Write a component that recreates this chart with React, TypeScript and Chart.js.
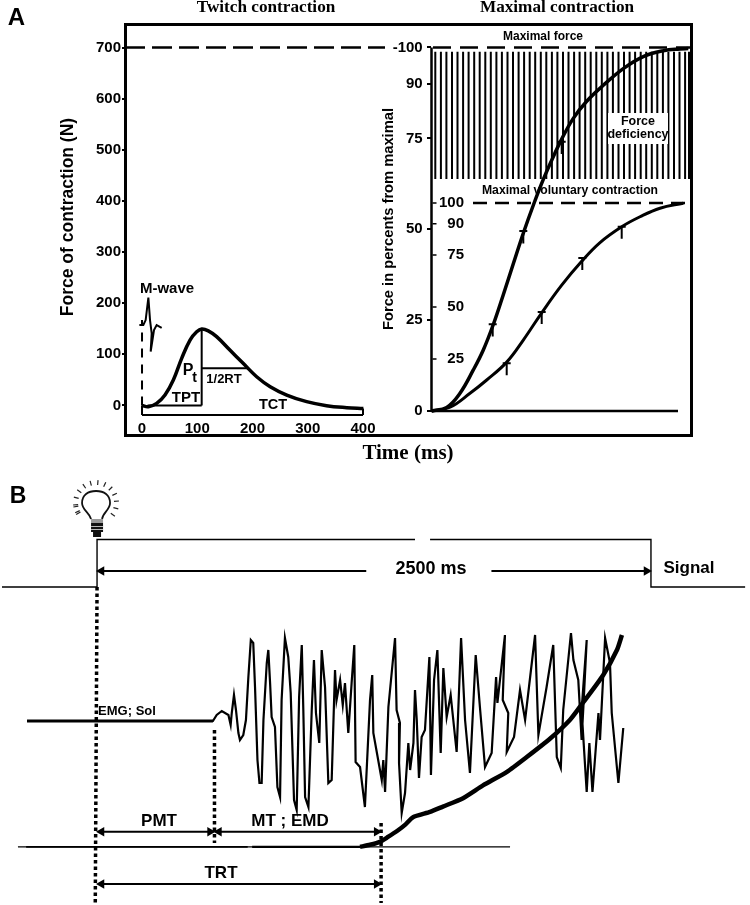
import React, { useEffect, useRef } from "react";
import { Chart, registerables } from "chart.js";

Chart.register(...registerables);

const SANS = "'Liberation Sans', Arial, sans-serif";
const SERIF = "'Liberation Serif', 'Times New Roman', serif";
const bold = (size: number, family = SANS) => `bold ${size}px ${family}`;

/* ---------- Panel A, twitch contraction ---------- */
const twitchTimeMs = [0, 11.5, 26.5, 41.6, 56.7, 71.8, 86.9, 99, 108, 120, 135, 159, 183, 207.5, 232, 262, 298, 334, 370.5, 400.6];
const twitchForceN = [0, -2.3, 4.2, 20.5, 49.9, 92.2, 128, 144, 149.6, 146, 134.6, 108.5, 82.5, 56.3, 36.8, 20.5, 7.5, -0.3, -4.2, -6];
const mWaveTimeMs = [-4.8, 2.4, 6.6, 11.5, 14.5, 17.5, 15.7, 21.7, 26.5, 35.6];
const mWaveForceN = [157.4, 157.4, 167, 210.9, 167, 141, 105.3, 147.6, 157.4, 152];
const forceTicks = [0, 100, 200, 300, 400, 500, 600, 700];
const timeTicks = [0, 100, 200, 300, 400];
const peakTimeMs = 108;
const peakForceN = 149.6;
const halfRelaxForceN = 72.7;
const halfRelaxTimeMs = 192;
const tctBracketN = -18.6;
const tctEndMs = 400;
const mWaveTopN = 167;

/* ---------- Panel A, maximal contraction ---------- */
const maxTime = [0.7, 15.7, 29, 42.3, 52.3, 62.3, 72.3, 82.3, 92.3, 102.3, 112.3, 120.7, 130.7, 142.3, 155.7, 172.3, 192.3, 212.3, 232.3, 249, 257.3];
const maxPercent = [0, 1, 4.9, 11.3, 16.8, 23.8, 32, 40.5, 48.9, 56.6, 63.7, 69, 74.8, 80.5, 85.2, 89.6, 94.2, 97.5, 99.1, 99.6, 99.7];
const mvcTime = [0.7, 19, 39, 55.7, 75.7, 92.3, 110.7, 130.7, 150.7, 169, 190.7, 209, 229, 252.3];
const mvcPercent = [0, 1.8, 8.5, 14.9, 23.5, 34.1, 47.2, 60.5, 72, 81, 88.6, 93.4, 97.5, 99.9];
const maxMarkTime = [61.7, 92.3, 130.7];
const maxMarkPercent = [23.9, 49.5, 74.1];
const mvcMarkTime = [75.7, 110.7, 151.3, 190.7];
const mvcMarkPercent = [23, 47.6, 73.6, 88.6];
const percentTicks = [0, 25, 50, 75, 90, 100];
const mvcTicks = [25, 50, 75, 90, 100];
const hatchTime = [4.3, 9.9, 15.4, 21, 26.5, 32.1, 37.6, 43.2, 48.7, 54.3, 59.8, 65.4, 70.9, 76.5, 82, 87.6, 93.1, 98.7, 104.2, 109.8, 115.3, 120.9, 126.4, 132, 137.5, 143.1, 148.6, 154.2, 159.7, 165.3, 170.8, 176.4, 181.9, 187.5, 193, 198.6, 204.1, 209.7, 215.2, 220.8, 226.3, 231.9, 237.4, 243, 248.5, 254.1, 258];
const hatchTopPercent = 98.8;
const hatchBottomPercent = 63.8;

/* ---------- Panel B ---------- */
const emgTimeMs = [-316, 523, 540, 563, 593, 603, 608, 618, 627, 638, 645, 660, 672, 683, 694, 705, 713, 724, 733, 743, 751, 766, 773, 781, 788, 803, 814, 826, 833, 848, 863, 874, 889, 901, 912, 924, 931, 939, 954, 969, 979, 988, 1003, 1014, 1029, 1044, 1059, 1074, 1081, 1097, 1109, 1119, 1134, 1149, 1161, 1167, 1187, 1209, 1232, 1242, 1247, 1285, 1292, 1300, 1315, 1345, 1352, 1367, 1363, 1375, 1390, 1405, 1413, 1428, 1435, 1443, 1453, 1465, 1480, 1500, 1507, 1521, 1536, 1551, 1563, 1578, 1596, 1623, 1643, 1661, 1683, 1709, 1728, 1751, 1781, 1801, 1807, 1841, 1831, 1856, 1849, 1882, 1909, 1932, 1977, 1992, 2029, 2059, 2075, 2093, 2104, 2139, 2150, 2172, 2187, 2195, 2210, 2187, 2210, 2222, 2236, 2263, 2270, 2293, 2315, 2323, 2353, 2375];
const emgAmplitude = [0, 0, 6, 10, 6, -4, 8, 26, 11, -12, -19, -14, 1, 44, 81, 78, 34, -39, -62, -62, 1, 58, 71, 38, 4, -6, -66, -76, 21, 83, 64, 28, -79, -89, 24, 76, 11, -76, -86, 11, 61, 8, -22, 71, 34, -62, -59, 51, 21, 41, 16, 38, -12, 38, 76, -41, -46, -86, 21, 46, -12, -59, -39, -71, 14, 83, 11, -2, -42, -92, -72, -22, -49, -22, 31, 1, -57, -16, -9, 64, -54, 41, 71, -32, 53, 4, 26, -31, 83, 1, -52, 66, 14, -46, -32, 44, 18, 86, 21, 8, -31, -16, 31, 1, 86, -14, 34, 76, -36, -47, 11, 88, 61, 41, -19, 14, 81, 11, -71, -22, -71, 8, -19, 83, 58, 8, -62, -7];
const forceTimeMs = [1187, 1232, 1277, 1313, 1354, 1390, 1426, 1503, 1561, 1652, 1742, 1850, 1941, 2044, 2135, 2193, 2284, 2347, 2369];
const forcePercent = [0, 1, 2.4, 4.7, 7.5, 10.4, 14, 16.5, 19, 23, 29, 35.4, 42.5, 51, 60, 68, 81, 93, 100];
const signalTimeMs = [-429, 0, 0, 1435, NaN, 1503, 2500, 2500, 2925];
const signalLevel = [0, 0, 1, 1, NaN, 1, 1, 0, 0];
const stimulusMs = 0;
const signalEndMs = 2500;
const premotorMs = 530;
const totalMs = 1282;

type Pt = { x: number; y: number };
const zip = (xs: number[], ys: number[]): Pt[] => xs.map((x, i) => ({ x, y: ys[i] }));
const segs = (list: number[][]): Pt[] => {
  const out: Pt[] = [];
  list.forEach(([x1, y1, x2, y2]) => {
    out.push({ x: x1, y: y1 }, { x: x2, y: y2 }, { x: x1, y: NaN });
  });
  return out;
};
const ds = (data: Pt[], xAxisID: string, yAxisID: string, borderWidth: number, extra: any = {}) => ({
  type: "scatter",
  data,
  xAxisID,
  yAxisID,
  showLine: true,
  spanGaps: false,
  borderColor: "#000",
  backgroundColor: "#000",
  borderWidth,
  pointRadius: 0,
  pointHoverRadius: 0,
  ...extra,
});
const arrow = (x1: number, x2: number, y: number, xAxisID: string, yAxisID: string, inset: number) =>
  ds(
    [{ x: x1 + inset, y }, { x: x2 - inset, y }],
    xAxisID,
    yAxisID,
    2,
    { pointStyle: "triangle", pointRadius: 5.5, pointBorderWidth: 0, pointRotation: [-90, 90] }
  );

type Label = { t: string; x: number; y: number; font: string; rot?: number };
const labelsPlugin = (labels: Label[], draw?: (c: any) => void) => ({
  id: "figureLabels",
  afterDraw(chart: any) {
    const { ctx } = chart;
    ctx.save();
    if (draw) draw(chart);
    ctx.fillStyle = "#000";
    ctx.textAlign = "center";
    ctx.textBaseline = "middle";
    labels.forEach((l) => {
      ctx.save();
      ctx.translate(l.x, l.y);
      if (l.rot) ctx.rotate(l.rot);
      ctx.font = l.font;
      ctx.fillText(l.t, 0, 0);
      ctx.restore();
    });
    ctx.restore();
  },
});

const setTicks = (vals: number[]) => (axis: any) => {
  axis.ticks = vals.map((value) => ({ value }));
};

function drawFrame(chart: any) {
  const { ctx, chartArea: a } = chart;
  ctx.fillStyle = "#fff";
  ctx.fillRect(608, 113, 60, 31);
  ctx.strokeStyle = "#000";
  ctx.lineWidth = 3;
  ctx.strokeRect(a.left + 0.5, a.top + 0.5, a.right - a.left, a.bottom - a.top);
}

const rayAngles = [-205, -185, -165, -145, -125, -105, -85, -65, -45, -25, -5, 15, 35, 150, 170];

function drawBulb(chart: any) {
  const { ctx, scales } = chart;
  const cx = scales.xB.getPixelForValue(stimulusMs) - 1;
  const cy = 33;
  ctx.strokeStyle = "#111";
  ctx.lineWidth = 1.8;
  ctx.beginPath();
  ctx.moveTo(cx - 5, cy + 16);
  ctx.bezierCurveTo(cx - 7, cy + 9, cx - 14, cy + 7, cx - 14, cy);
  ctx.bezierCurveTo(cx - 14, cy - 8, cx - 8, cy - 12, cx, cy - 12);
  ctx.bezierCurveTo(cx + 8, cy - 12, cx + 14, cy - 8, cx + 14, cy);
  ctx.bezierCurveTo(cx + 14, cy + 7, cx + 7, cy + 9, cx + 6, cy + 16);
  ctx.stroke();
  ctx.lineWidth = 1.2;
  ctx.strokeStyle = "#222";
  rayAngles.forEach((deg) => {
    const r = (deg * Math.PI) / 180;
    ctx.beginPath();
    ctx.moveTo(cx + Math.cos(r) * 18, cy + Math.sin(r) * 18);
    ctx.lineTo(cx + Math.cos(r) * 23, cy + Math.sin(r) * 23);
    ctx.stroke();
  });
  ctx.fillStyle = "#999";
  ctx.fillRect(cx - 5, cy + 16, 12, 4);
  ctx.fillStyle = "#111";
  ctx.fillRect(cx - 5, cy + 20, 12, 9);
  ctx.fillRect(cx - 3, cy + 29, 8, 5);
  ctx.fillStyle = "#bbb";
  ctx.fillRect(cx - 5, cy + 23, 12, 1);
  ctx.fillRect(cx - 5, cy + 26, 12, 1);
}

export default function App() {
  const refA = useRef<HTMLCanvasElement>(null);
  const refB = useRef<HTMLCanvasElement>(null);

  useEffect(() => {
    const labelsA: Label[] = [
      { t: "A", x: 16.5, y: 18, font: bold(24) },
      { t: "Twitch contraction", x: 266, y: 8, font: bold(17.2, SERIF) },
      { t: "Maximal contraction", x: 557, y: 8, font: bold(17.2, SERIF) },
      { t: "Force of contraction (N)", x: 68, y: 217, font: bold(17.5), rot: -Math.PI / 2 },
      { t: "Force in percents from maximal", x: 389, y: 219, font: bold(14.7), rot: -Math.PI / 2 },
      { t: "M-wave", x: 167, y: 289, font: bold(15) },
      { t: "P", x: 188, y: 371, font: bold(16) },
      { t: "t", x: 194.7, y: 378, font: bold(14) },
      { t: "1/2RT", x: 224, y: 379, font: bold(13) },
      { t: "TPT", x: 186, y: 398, font: bold(15) },
      { t: "TCT", x: 273, y: 405, font: bold(14.5) },
      { t: "Maximal force", x: 543, y: 37, font: bold(12) },
      { t: "Maximal voluntary contraction", x: 570, y: 191, font: bold(12.2) },
      { t: "Force", x: 638, y: 122, font: bold(12.5) },
      { t: "deficiency", x: 638, y: 135, font: bold(12.5) },
    ];

    const chartA = new Chart(refA.current as any, {
      type: "scatter",
      plugins: [labelsPlugin(labelsA, drawFrame)],
      data: {
        datasets: [
          ds(zip(twitchTimeMs, twitchForceN), "xT", "yF", 3.5, { tension: 0.4 }),
          ds(zip(mWaveTimeMs, mWaveForceN), "xT", "yF", 2),
          ds(
            segs([
              [peakTimeMs, 0, peakTimeMs, peakForceN],
              [10, 0, peakTimeMs, 0],
              [peakTimeMs, halfRelaxForceN, halfRelaxTimeMs, halfRelaxForceN],
              [0, 0, 0, tctBracketN],
              [0, tctBracketN, tctEndMs, tctBracketN],
              [tctEndMs, tctBracketN, tctEndMs, -6],
            ]),
            "xT",
            "yF",
            2
          ),
          ds([{ x: 0, y: 0 }, { x: 0, y: mWaveTopN }], "xT", "yF", 2, { borderDash: [9, 7] }),
          ds(zip(maxTime, maxPercent), "xR", "yP", 3.5, { tension: 0.4 }),
          ds(zip(mvcTime, mvcPercent), "xR", "yV", 3, { tension: 0.4 }),
          ds(
            segs(
              maxMarkTime.flatMap((x, i) => [
                [x - 4, maxMarkPercent[i], x + 4, maxMarkPercent[i]],
                [x, maxMarkPercent[i], x, maxMarkPercent[i] - 3.4],
              ])
            ),
            "xR",
            "yP",
            2
          ),
          ds(
            segs(
              mvcMarkTime.flatMap((x, i) => [
                [x - 4, mvcMarkPercent[i], x + 4, mvcMarkPercent[i]],
                [x, mvcMarkPercent[i], x, mvcMarkPercent[i] - 5.8],
              ])
            ),
            "xR",
            "yV",
            2
          ),
          ds(segs(mvcTicks.map((v) => [1.5, v, 5.5, v])), "xR", "yV", 1.5),
          ds(segs([[0.5, 0, 0.5, 100], [0, 0, 247, 0]]), "xR", "yP", 2.5),
          ds(segs(hatchTime.map((x) => [x, hatchBottomPercent, x, hatchTopPercent])), "xR", "yP", 2),
          ds([{ x: -306, y: 100 }, { x: -46, y: 100 }], "xR", "yP", 2.5, { borderDash: [20, 7] }),
          ds([{ x: 2, y: 100 }, { x: 260, y: 100 }], "xR", "yP", 2.5, { borderDash: [18, 9] }),
          ds([{ x: 42, y: 100 }, { x: 260, y: 100 }], "xR", "yV", 2.5, { borderDash: [14, 8] }),
        ] as any,
      },
      options: {
        animation: false,
        responsive: false,
        devicePixelRatio: 1,
        layout: { autoPadding: false, padding: { left: 0, top: 24, right: 59, bottom: 0 } },
        plugins: { legend: { display: false }, tooltip: { enabled: false }, title: { display: false } },
        scales: {
          xT: {
            axis: "x",
            type: "linear",
            position: "bottom",
            min: -30.8,
            max: 993.7,
            afterBuildTicks: setTicks(timeTicks),
            afterFit: (s: any) => {
              s.height = 35;
            },
            grid: { display: false },
            border: { display: false },
            ticks: { color: "#000", mirror: true, padding: -3, maxRotation: 0, autoSkip: false, font: { family: SANS, size: 15, weight: "bold" } },
            title: {
              display: true,
              text: "Time (ms)",
              color: "#000",
              font: { family: SERIF, size: 21, weight: "bold" },
              padding: { top: 0, bottom: 4 },
            },
          },
          yF: {
            axis: "y",
            type: "linear",
            position: "left",
            min: -57.7,
            max: 746,
            afterBuildTicks: setTicks(forceTicks),
            afterFit: (s: any) => {
              s.width = 125;
            },
            grid: { drawOnChartArea: false, tickLength: 3, color: "#000", lineWidth: 2 },
            border: { display: false },
            ticks: { color: "#000", padding: 1, font: { family: SANS, size: 15, weight: "bold" } },
          },
          xR: { axis: "x", type: "linear", display: false, min: -306, max: 260 },
          yP: {
            axis: "y",
            type: "linear",
            position: { xR: 0 } as any,
            min: -6.6,
            max: 106.46,
            afterBuildTicks: setTicks(percentTicks),
            afterFit: (s: any) => {
              s.width = 0;
            },
            grid: { drawOnChartArea: false, tickLength: 4, color: "#000", lineWidth: 2 },
            border: { display: false },
            ticks: {
              color: "#000",
              callback: (v: any) => (v === 100 ? "-100  " : `${v}  `),
              font: { family: SANS, size: 15, weight: "bold" },
            },
          },
          yV: {
            axis: "y",
            type: "linear",
            position: { xR: 33 } as any,
            min: -11.54,
            max: 186.06,
            afterBuildTicks: setTicks(mvcTicks),
            afterFit: (s: any) => {
              s.width = 0;
            },
            grid: { display: false },
            border: { display: false },
            ticks: { color: "#000", font: { family: SANS, size: 15, weight: "bold" } },
          },
        } as any,
      },
    });

    const labelsB: Label[] = [
      { t: "B", x: 18, y: 27, font: bold(23) },
      { t: "2500 ms", x: 431, y: 99, font: bold(18) },
      { t: "Signal", x: 689, y: 98, font: bold(17) },
      { t: "EMG; Sol", x: 127, y: 241, font: bold(13) },
      { t: "PMT", x: 159, y: 351, font: bold(17) },
      { t: "MT ; EMD", x: 290, y: 351, font: bold(17) },
      { t: "TRT", x: 221, y: 403, font: bold(17) },
    ];

    const chartB = new Chart(refB.current as any, {
      type: "scatter",
      plugins: [labelsPlugin(labelsB, drawBulb)],
      data: {
        datasets: [
          ds(zip(forceTimeMs, forcePercent), "xB", "yFB", 4.5, { tension: 0.2 }),
          ds(zip(emgTimeMs, emgAmplitude), "xB", "yE", 2.2),
          ds([{ x: -316, y: 0 }, { x: 523, y: 0 }], "xB", "yE", 3),
          ds(zip(signalTimeMs, signalLevel), "xB", "yS", 1.4),
          ds([{ x: -357, y: 0 }, { x: 1864, y: 0 }], "xB", "yFB", 1.2),
          ds([{ x: -320, y: 0 }, { x: 680, y: 0 }], "xB", "yFB", 1.6),
          ds([{ x: 700, y: 0 }, { x: 1190, y: 0 }], "xB", "yFB", 2.2),
          ds([{ x: stimulusMs, y: 134 }, { x: stimulusMs - 8, y: -182 }], "xB", "yE", 3.5, { borderDash: [3.5, 3] }),
          ds([{ x: premotorMs, y: -9 }, { x: premotorMs, y: -122 }], "xB", "yE", 3.5, { borderDash: [3.5, 3] }),
          ds([{ x: totalMs, y: -102 }, { x: totalMs, y: -182 }], "xB", "yE", 3.5, { borderDash: [3.5, 3] }),
          ds([{ x: stimulusMs + 20, y: 0.337 }, { x: 1215, y: 0.337 }], "xB", "yS", 2, { pointStyle: "triangle", pointRadius: [5.5, 0], pointBorderWidth: 0, pointRotation: [-90, 0] }),
          ds([{ x: 1780, y: 0.337 }, { x: signalEndMs - 20, y: 0.337 }], "xB", "yS", 2, { pointStyle: "triangle", pointRadius: [0, 5.5], pointBorderWidth: 0, pointRotation: [0, 90] }),
          arrow(stimulusMs, premotorMs, -110.7, "xB", "yE", 20),
          arrow(premotorMs, totalMs, -110.7, "xB", "yE", 20),
          arrow(stimulusMs, totalMs, -163, "xB", "yE", 20),
        ] as any,
      },
      options: {
        animation: false,
        responsive: false,
        devicePixelRatio: 1,
        layout: { autoPadding: false, padding: 0 },
        plugins: { legend: { display: false }, tooltip: { enabled: false }, title: { display: false } },
        scales: {
          xB: { axis: "x", type: "linear", display: false, min: -438, max: 2947 },
          yE: { axis: "y", type: "linear", display: false, min: -184, max: 251 },
          yS: { axis: "y", type: "linear", display: false, min: -6.695, max: 2.463 },
          yFB: { axis: "y", type: "linear", display: false, min: -27.4, max: 177.8 },
        } as any,
      },
    });

    return () => {
      chartA.destroy();
      chartB.destroy();
    };
  }, []);

  return (
    <div style={{ position: "absolute", left: 0, top: 0, width: 750, height: 905, background: "#fff", overflow: "hidden" }}>
      <canvas ref={refA} width={750} height={470} style={{ position: "absolute", left: 0, top: 0, display: "block" }} />
      <canvas ref={refB} width={750} height={435} style={{ position: "absolute", left: 0, top: 470, display: "block" }} />
    </div>
  );
}
